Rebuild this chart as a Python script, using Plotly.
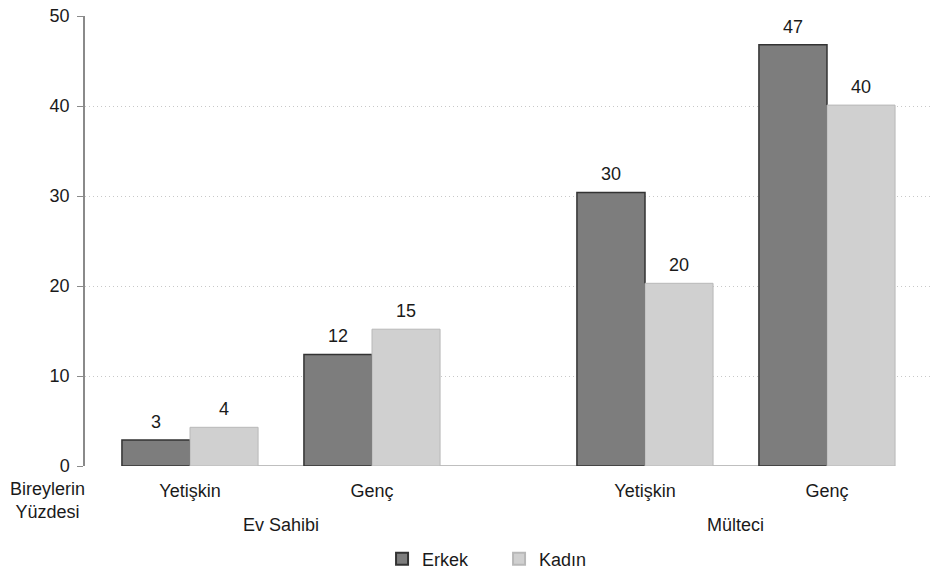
import plotly.graph_objects as go

# ---- data ----
groups = ["Ev Sahibi", "Ev Sahibi", "Mülteci", "Mülteci"]
categories = ["Yetişkin", "Genç", "Yetişkin", "Genç"]
erkek = [2.9, 12.4, 30.4, 46.8]
kadin = [4.3, 15.2, 20.3, 40.1]
erkek_labels = ["3", "12", "30", "47"]
kadin_labels = ["4", "15", "20", "40"]
y_ticks = [0, 10, 20, 30, 40, 50]

# ---- layout helpers (positions of the four category slots on a numeric axis) ----
slot = [0, 1, 2.5, 3.5]
bw = 0.374
FONT = "Liberation Sans, Arial, Helvetica, sans-serif"
FS = 18
TXT = "#1a1a1a"

fig = go.Figure()
fig.add_trace(go.Bar(
    x=slot, y=erkek, name="Erkek", width=bw, offset=-bw,
    marker=dict(color="#7d7d7d", line=dict(color="#333333", width=1.5)),
))
fig.add_trace(go.Bar(
    x=slot, y=kadin, name="Kadın", width=bw, offset=0,
    marker=dict(color="#d0d0d0", line=dict(color="#b8b8b8", width=1)),
))

ann = []
for xs, v, t in zip(slot, erkek, erkek_labels):
    ann.append(dict(x=xs - bw / 2, y=v, text=t, xref="x", yref="y", showarrow=False,
                    yanchor="bottom", yshift=6, font=dict(size=FS, color=TXT)))
for xs, v, t in zip(slot, kadin, kadin_labels):
    ann.append(dict(x=xs + bw / 2, y=v, text=t, xref="x", yref="y", showarrow=False,
                    yanchor="bottom", yshift=6, font=dict(size=FS, color=TXT)))

# group labels
for g in dict.fromkeys(groups):
    xs = [s for s, gg in zip(slot, groups) if gg == g]
    ann.append(dict(x=sum(xs) / len(xs), y=-0.13, xref="x", yref="paper", text=g,
                    showarrow=False, xanchor="center", yanchor="middle",
                    font=dict(size=FS, color=TXT)))

# y axis title at bottom-left
ann.append(dict(x=-0.044, y=-0.076, xref="paper", yref="paper",
                text="Bireylerin<br>Yüzdesi", showarrow=False, align="center",
                xanchor="center", yanchor="middle", font=dict(size=FS, color=TXT)))

fig.update_layout(
    width=933, height=572,
    margin=dict(l=85, r=3, t=16, b=106, autoexpand=False),
    paper_bgcolor="white", plot_bgcolor="white",
    font=dict(family=FONT, size=FS, color=TXT),
    showlegend=True,
    legend=dict(orientation="h", x=0.49, xanchor="center", y=-0.207, yanchor="middle",
                font=dict(size=FS, color=TXT), itemsizing="constant",
                entrywidth=72, entrywidthmode="pixels"),
    annotations=ann,
    shapes=[dict(type="line", xref="x", yref="y",
                 x0=slot[0] - bw, x1=slot[-1] + bw, y0=0, y1=0,
                 line=dict(color="#aaaaaa", width=1.5), layer="below")],
)
fig.update_xaxes(
    range=[-0.577, 4.066], tickvals=slot, ticktext=categories,
    showgrid=False, zeroline=False, showline=False,
    ticks="outside", ticklen=8, tickcolor="rgba(0,0,0,0)",
    tickfont=dict(size=FS, color=TXT),
)
fig.update_yaxes(
    range=[0, 50], tickvals=y_ticks,
    showgrid=True, gridcolor="#c8c8c8", griddash="1px,3px", gridwidth=1,
    zeroline=False, showline=True, linecolor="#8a8a8a", linewidth=1.5,
    ticks="outside", ticklen=6, tickcolor="#8a8a8a", tickwidth=1,
    ticklabelstandoff=4,
    tickfont=dict(size=FS, color=TXT),
)

fig.write_html("out.html")
